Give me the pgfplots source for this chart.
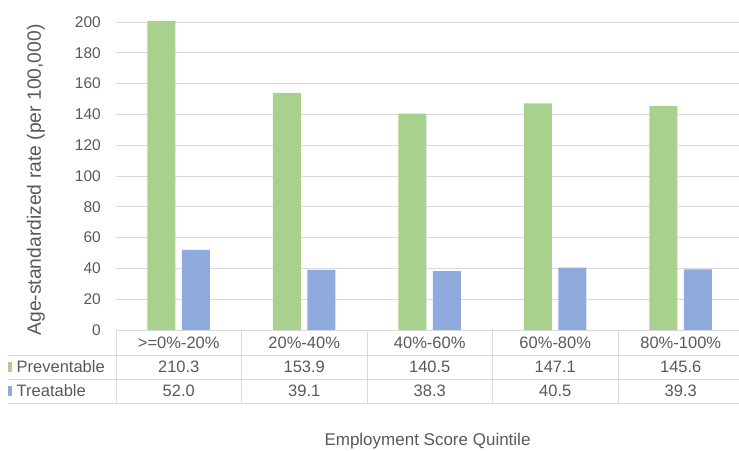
\documentclass[border=0pt]{standalone}
\usepackage{pgfplots}
\pgfplotsset{compat=1.18}
\usepackage{pgfplotstable}
\usepackage{fontspec}
\setmainfont{Liberation Sans}

\definecolor{prevgreen}{HTML}{A9D18E}
\definecolor{treatblue}{HTML}{8FAADC}
\definecolor{txtgray}{HTML}{595959}
\definecolor{gridgray}{HTML}{D9D9D9}

% Age-standardized mortality rates by employment score quintile
\pgfplotstableread{
x prev  treat
0 210.3 52.0
1 153.9 39.1
2 140.5 38.3
3 147.1 40.5
4 145.6 39.3
}\quintiles

\begin{document}
\begin{tikzpicture}[font=\fontsize{16.5}{19}\selectfont]
\useasboundingbox (0pt,0pt) rectangle (739pt,450pt);

\begin{axis}[
  at={(116pt,120pt)}, anchor=south west,
  scale only axis, width=627.5pt, height=308pt,
  xmin=-0.5, xmax=4.5, ymin=0, ymax=200,
  ytick={0,20,...,200}, xtick=\empty,
  ymajorgrids, grid style={gridgray, line width=0.8pt},
  axis line style={draw=none}, major tick length=0pt,
  yticklabel style={font=\fontsize{15.5}{18}\selectfont, text=txtgray, inner sep=0pt, xshift=-15pt},
  /pgf/number format/assume math mode=true,
  ybar, bar width=28pt,
]
\addplot[fill=prevgreen, draw=none, bar shift=-17.5pt] table[x=x, y=prev] \quintiles;
\addplot[fill=treatblue, draw=none, bar shift=17pt] table[x=x, y=treat] \quintiles;
\end{axis}

% data table below the plot
\begin{scope}[x=1pt, y=1pt]
\draw[gridgray, line width=0.8pt] (116,120) -- (745,120);
\foreach \yy in {95,71,47} \draw[gridgray, line width=0.8pt] (8,\yy) -- (745,\yy);
\foreach \k in {0,...,5} \draw[gridgray, line width=0.8pt] ({116+125.5*\k},120) -- ({116+125.5*\k},47);

\foreach \i/\lab in {0/{>=0\%-20\%},1/{20\%-40\%},2/{40\%-60\%},3/{60\%-80\%},4/{80\%-100\%}}
  \node[text=txtgray] at ({116+125.5*(\i+0.5)},107) {\lab};

\foreach \i in {0,...,4} {
  \pgfplotstablegetelem{\i}{prev}\of\quintiles
  \node[text=txtgray] at ({116+125.5*(\i+0.5)},83) {\pgfplotsretval};
  \pgfplotstablegetelem{\i}{treat}\of\quintiles
  \node[text=txtgray] at ({116+125.5*(\i+0.5)},59) {\pgfplotsretval};
}

\fill[prevgreen] (8,78) rectangle (12,88);
\node[anchor=west, inner sep=0pt, text=txtgray] at (16.5,83) {Preventable};
\fill[treatblue] (8,54) rectangle (12,64);
\node[anchor=west, inner sep=0pt, text=txtgray] at (16.5,59) {Treatable};

\node[anchor=base, text=txtgray, font=\fontsize{17}{20}\selectfont] at (427.5,5) {Employment Score Quintile};
\node[rotate=90, text=txtgray, font=\fontsize{19.3}{22}\selectfont] at (36,270) {Age-standardized rate (per 100,000)};
\end{scope}
\end{tikzpicture}
\end{document}
